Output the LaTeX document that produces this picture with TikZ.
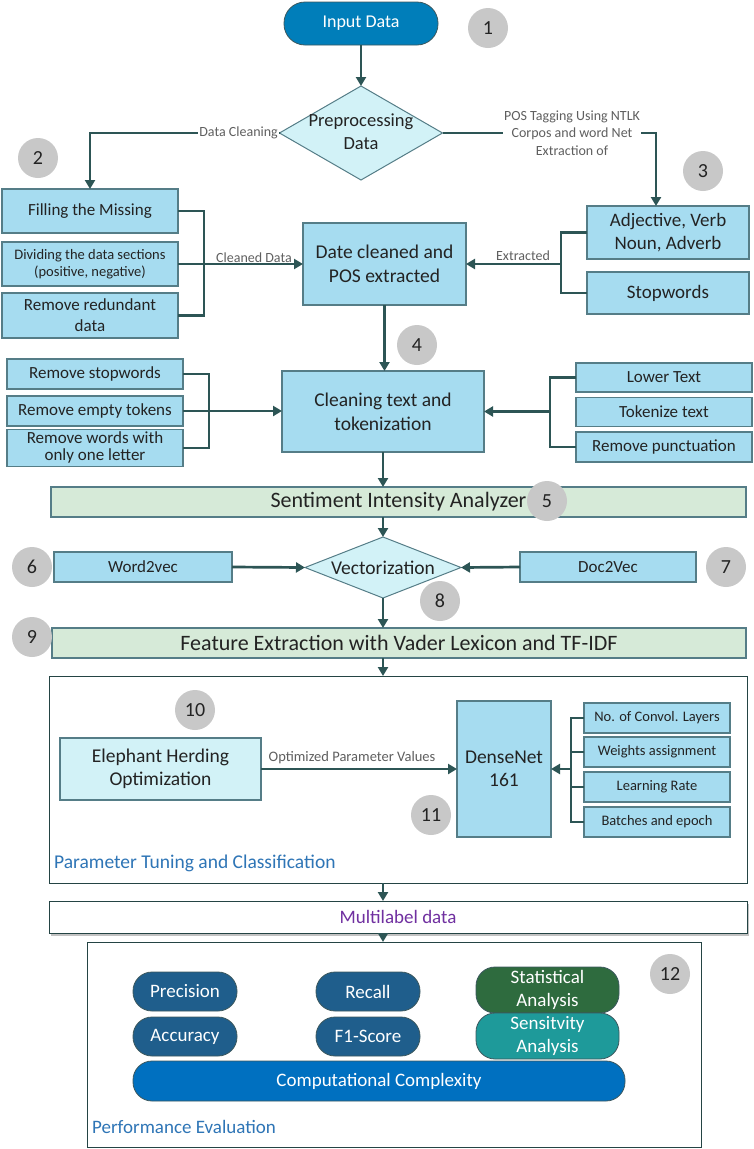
\documentclass[tikz,border=0pt]{standalone}
\usepackage{fontspec}
\setmainfont{Carlito}
\usetikzlibrary{arrows.meta,shapes.geometric,shadows,calc}
\definecolor{conncol}{RGB}{45,85,85}
\definecolor{boxfill}{RGB}{166,220,240}
\definecolor{boxdraw}{RGB}{85,125,135}
\definecolor{cyanfill}{RGB}{210,242,247}
\definecolor{greenfill}{RGB}{214,234,216}
\definecolor{circgray}{RGB}{200,200,200}
\definecolor{inputblue}{RGB}{0,126,186}
\definecolor{pillblue}{RGB}{31,94,140}
\definecolor{compblue}{RGB}{0,112,192}
\definecolor{statgreen}{RGB}{46,107,62}
\definecolor{sensteal}{RGB}{30,154,154}
\definecolor{labelblue}{RGB}{46,117,182}
\definecolor{mlpurple}{RGB}{112,48,160}
\definecolor{txt}{RGB}{35,35,35}
\definecolor{lblgray}{RGB}{95,95,95}
\begin{document}
\begin{tikzpicture}[x=1pt,y=-1pt,
  conn/.style={draw=conncol, line width=2.7pt},
  arr/.style={conn, -{Triangle[length=9pt,width=10pt]}},
  bx/.style={draw=boxdraw, line width=1.1pt, fill=boxfill, inner sep=0pt, outer sep=0pt, text=txt, align=center},
  cy/.style={bx, fill=cyanfill},
  gbar/.style={bx, fill=greenfill},
  dia/.style={diamond, draw=boxdraw, line width=1pt, fill=cyanfill, inner sep=0pt, outer sep=0pt, text=txt},
  num/.style={circle, fill=circgray, minimum size=40pt, inner sep=0pt, text=txt, font=\fontsize{20}{22}\selectfont},
  pill/.style={rounded corners=19pt, draw=boxdraw!70!black, line width=0.8pt, inner sep=0pt, outer sep=0pt, text=white, align=center, font=\fontsize{19}{22}\selectfont},
  lbl/.style={font=\fontsize{14}{17}\selectfont, text=lblgray, inner sep=1pt, align=center},
  frame/.style={draw=conncol!80!black, line width=0.9pt, fill=white, inner sep=0pt, outer sep=0pt},
  f14/.style={font=\fontsize{14.5}{17}\selectfont},
  f17/.style={font=\fontsize{17}{20}\selectfont},
  f19/.style={font=\fontsize{19}{23}\selectfont},
  f22/.style={font=\fontsize{22}{25}\selectfont}
]
\useasboundingbox (0,0) rectangle (754,1149);

% ---------- top ----------
\node[pill, fill=inputblue, rounded corners=21pt, minimum width=154pt, minimum height=43pt, font=\fontsize{18}{21}\selectfont] (input) at (361,23.5) {Input Data};
\node[num] (n1) at (488,28) {1};
\node[dia, minimum width=163pt, minimum height=94pt] (pre) at (361,133)
  {\makebox[0pt]{\fontsize{18.5}{23}\selectfont\begin{tabular}{@{}c@{}}Preprocessing\\Data\end{tabular}}};
\draw[arr] (input.south) -- (pre.north);

% left branch
\node[bx, f17, minimum width=176pt, minimum height=44pt] (fill) at (90,211) {Filling the Missing};
\node[bx, f14, minimum width=176pt, minimum height=44pt] (div) at (90,264) {Dividing the data sections\\(positive, negative)};
\node[bx, minimum width=176pt, minimum height=45pt, font=\fontsize{17}{21}\selectfont] (red) at (90,315.5) {Remove redundant\\data};
\node[num] (n2) at (38,158) {2};
\draw[arr] (pre.west) -| (fill.north);
\node[lbl, fill=white, anchor=east] (dclbl) at (279,133) {Data Cleaning};

\node[bx, minimum width=163pt, minimum height=82pt, font=\fontsize{19.5}{24}\selectfont] (date) at (384.5,264) {Date cleaned and\\POS extracted};
\coordinate (bl) at (204,264);
\draw[conn] (fill.east) -| (bl |- red.east) -- (red.east);
\draw[arr] (div.east) -- (date.west);
\node[lbl, anchor=south] (cdlbl) at (254,264) {Cleaned Data};

% right branch
\node[bx, minimum width=162pt, minimum height=53pt, font=\fontsize{19}{23}\selectfont] (adj) at (668,232.5) {Adjective, Verb\\Noun, Adverb};
\node[bx, f19, minimum width=162pt, minimum height=42pt] (stop) at (668,293) {Stopwords};
\node[num] (n3) at (703,171) {3};
\coordinate (posc) at (656,133);
\draw[arr] (pre.east) -- (posc) -- (posc |- adj.north);
\node[lbl, fill=white, font=\fontsize{14}{17.5}\selectfont] (poslbl) at (572,133) {POS Tagging Using NTLK\\Corpos and word Net\\Extraction of};
\coordinate (br) at (561,264);
\draw[conn] (adj.west) -| (br |- stop.west) -- (stop.west);
\draw[arr] (br) -- (date.east);
\node[lbl, anchor=south] (exlbl) at (523,262) {Extracted};

% ---------- cleaning ----------
\node[bx, minimum width=202pt, minimum height=81pt, font=\fontsize{19.5}{24}\selectfont] (clean) at (383,411.5) {Cleaning text and\\tokenization};
\node[num] (n4) at (417,345) {4};
\draw[arr] (date.south) -- (date.south |- clean.north);

\node[bx, f17, minimum width=176pt, minimum height=30pt] (rs) at (95,374) {Remove stopwords};
\node[bx, f17, minimum width=176pt, minimum height=30pt] (re) at (95,411) {Remove empty tokens};
\node[bx, f17, minimum width=176pt, minimum height=30pt] (rw) at (95,448) {\makebox[0pt]{\begin{tabular}{@{}c@{}}Remove words with\\[-3pt]only one letter\end{tabular}}};
\coordinate (cl2) at (209,411);
\draw[conn] (rs.east) -| (cl2 |- rw.east) -- (rw.east);
\draw[arr] (re.east) -- (re.east -| clean.west);

\node[bx, f17, minimum width=176pt, minimum height=29pt] (lt) at (664,377.5) {Lower Text};
\node[bx, f17, minimum width=176pt, minimum height=29pt] (tt) at (664,412) {Tokenize text};
\node[bx, f17, minimum width=176pt, minimum height=30pt] (rp) at (664,447) {Remove punctuation};
\coordinate (cr) at (550,411.5);
\draw[conn] (lt.west) -| (cr |- rp.west) -- (rp.west);
\draw[arr] (cr) -- (clean.east);

% ---------- sentiment / vectorization ----------
\node[gbar, f22, minimum width=695pt, minimum height=30pt] (sent) at (398.5,502) {Sentiment Intensity Analyzer};
\node[num] (n5) at (547,501) {5};
\draw[arr] (clean.south) -- (clean.south |- sent.north);

\node[dia, minimum width=156pt, minimum height=61pt] (vect) at (383,567.5) {\makebox[0pt]{\fontsize{19.5}{22}\selectfont Vectorization}};
\draw[arr] (clean.south |- sent.south) -- (vect.north);
\node[bx, f17, minimum width=178pt, minimum height=30pt] (w2v) at (143,567) {Word2vec};
\node[bx, f17, minimum width=176pt, minimum height=30pt] (d2v) at (608,567) {Doc2Vec};
\draw[arr] (w2v.east) -- (vect.west);
\draw[arr] (d2v.west) -- (vect.east);
\node[num] (n6) at (32,567) {6};
\node[num] (n7) at (726,567) {7};
\node[num] (n8) at (440,601) {8};

\node[gbar, f22, minimum width=694pt, minimum height=30pt] (feat) at (399,643) {Feature Extraction with Vader Lexicon and TF-IDF};
\node[num] (n9) at (32,637) {9};
\draw[arr] (vect.south) -- (vect.south |- feat.north);

% ---------- parameter tuning ----------
\node[frame, minimum width=698pt, minimum height=207pt] (param) at (398,779.5) {};
\draw[arr] (vect.south |- feat.south) -- (vect.south |- param.north);
\node[num] (n10) at (195,710) {10};
\node[cy, minimum width=201pt, minimum height=62pt, font=\fontsize{19.5}{23}\selectfont] (eho) at (160.5,769) {Elephant Herding\\Optimization};
\node[bx, minimum width=94pt, minimum height=136pt, font=\fontsize{19.5}{23}\selectfont] (dense) at (504,769) {DenseNet\\161};
\draw[arr] (eho.east) -- (dense.west);
\node[lbl, anchor=south, font=\fontsize{14.5}{17}\selectfont] (oplbl) at (352,765) {Optimized Parameter Values};
\node[num] (n11) at (431,815) {11};
\node[bx, f14, minimum width=146pt, minimum height=30pt] (p1) at (657,718) {No. of Convol. Layers};
\node[bx, f14, minimum width=146pt, minimum height=30pt] (p2) at (657,752) {Weights assignment};
\node[bx, f14, minimum width=146pt, minimum height=30pt] (p3) at (657,787) {Learning Rate};
\node[bx, f14, minimum width=146pt, minimum height=30pt] (p4) at (657,822) {Batches and epoch};
\coordinate (cp) at (571,769);
\draw[conn] (p1.west) -| (cp |- p4.west) -- (p4.west);
\draw[conn] (p2.west) -- (p2.west -| cp);
\draw[conn] (p3.west) -- (p3.west -| cp);
\draw[arr] (cp) -- (dense.east);
\node[anchor=west, text=labelblue, inner sep=0pt, font=\fontsize{19.5}{23}\selectfont] (ptlbl) at (54,863) {Parameter Tuning and Classification};

% ---------- multilabel ----------
\node[frame, minimum width=698pt, minimum height=32pt, drop shadow={shadow xshift=1.5pt, shadow yshift=-2.5pt, fill=black!40, opacity=0.6}, text=mlpurple, f19] (multi) at (398,917) {Multilabel data};
\draw[arr] (vect.south |- param.south) -- (vect.south |- multi.north);

% ---------- performance ----------
\node[frame, minimum width=614pt, minimum height=205pt] (perf) at (394,1044.5) {};
\draw[arr] (vect.south |- multi.south) -- (vect.south |- perf.north);
\node[num] (n12) at (670,974) {12};
\node[pill, fill=pillblue, minimum width=104pt, minimum height=39pt] (prec) at (185,991.5) {Precision};
\node[pill, fill=pillblue, minimum width=104pt, minimum height=39pt] (acc) at (185,1036.5) {Accuracy};
\node[pill, fill=pillblue, minimum width=104pt, minimum height=39pt] (rec) at (368,991.5) {Recall};
\node[pill, fill=pillblue, minimum width=104pt, minimum height=39pt] (f1) at (368,1036.5) {F1-Score};
\node[pill, fill=statgreen, minimum width=143pt, minimum height=40pt, font=\fontsize{19}{23}\selectfont] (stat) at (547.5,990) {\makebox[0pt]{\begin{tabular}{@{}c@{}}Statistical\\Analysis\end{tabular}}};
\node[pill, fill=sensteal, minimum width=143pt, minimum height=40pt, font=\fontsize{19}{23}\selectfont] (sens) at (547.5,1036) {\makebox[0pt]{\begin{tabular}{@{}c@{}}Sensitvity\\Analysis\end{tabular}}};
\node[pill, fill=compblue, minimum width=492pt, minimum height=40pt] (comp) at (379,1081) {Computational Complexity};
\node[anchor=west, text=labelblue, f19, inner sep=0pt] (pelbl) at (92,1127) {Performance Evaluation};
\end{tikzpicture}
\end{document}
